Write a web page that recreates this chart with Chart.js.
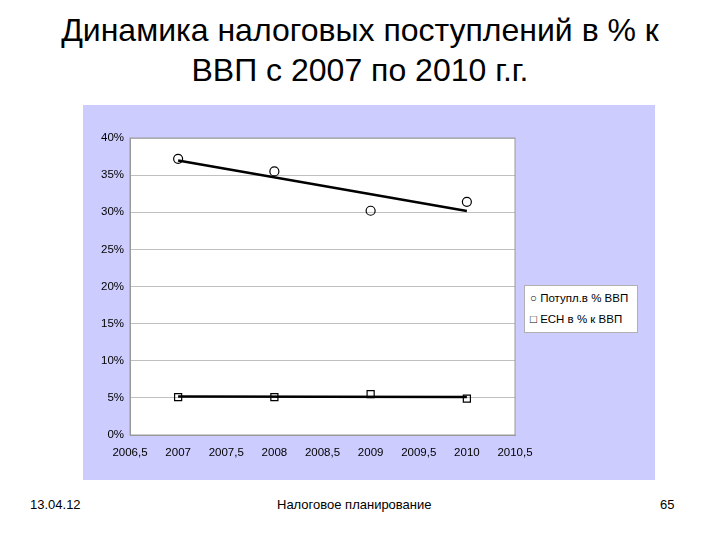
<!DOCTYPE html>
<html>
<head>
<meta charset="utf-8">
<script src="https://cdn.jsdelivr.net/npm/chart.js@4"></script>
<style>
body { margin:0; width:720px; height:540px; background:#fff; font-family:"Liberation Sans", Arial, sans-serif; position:relative; overflow:hidden; }
#title { position:absolute; top:10px; left:0; width:720px; text-align:center; font-size:32px; line-height:40px; color:#000; }
#panel { position:absolute; left:83px; top:105px; width:572px; height:375px; background:#ccccff; }
#legend { position:absolute; left:524px; top:285px; width:114px; height:48px; background:#fff; border:1px solid #b0b0b0; box-sizing:border-box; font-size:11.5px; }
#legend div { position:absolute; left:5px; white-space:nowrap; }
.foot { position:absolute; top:497px; font-size:13px; }
</style>
</head>
<body>
<div id="title">Динамика налоговых поступлений в % к<br>ВВП с 2007 по 2010 г.г.</div>
<div id="panel"><canvas id="myChart" width="572" height="375"></canvas></div>
<div id="legend">
  <div style="top:6px">○ Потупл.в % ВВП</div>
  <div style="top:27px">□ ЕСН в % к ВВП</div>
</div>
<div class="foot" style="left:30px">13.04.12</div>
<div class="foot" style="left:277px">Налоговое планирование</div>
<div class="foot" style="left:660px">65</div>
<script>
"use strict";

let years = [2007, 2008, 2009, 2010];
let taxShare = [0.372, 0.355, 0.302, 0.314];   // Потупл.в % ВВП
let esnShare = [0.051, 0.051, 0.055, 0.049];   // ЕСН в % к ВВП

function trend(xs, ys){
    let n = xs.length, mx = 0, my = 0;
    for(let i = 0; i < n; i++){ mx += xs[i]/n; my += ys[i]/n; }
    let num = 0, den = 0;
    for(let i = 0; i < n; i++){ num += (xs[i]-mx)*(ys[i]-my); den += (xs[i]-mx)*(xs[i]-mx); }
    let b = num/den;
    return [{x: xs[0], y: my + b*(xs[0]-mx)}, {x: xs[n-1], y: my + b*(xs[n-1]-mx)}];
}
function pts(ys){
    return years.map((x, i) => ({x: x, y: ys[i]}));
}

const frame = {
    id: 'frame',
    beforeDraw(chart){
        let a = chart.chartArea, c = chart.ctx;
        c.save();
        c.fillStyle = '#fff';
        c.fillRect(a.left, a.top, a.right - a.left, a.bottom - a.top);
        c.restore();
    },
    afterDraw(chart){
        let a = chart.chartArea, c = chart.ctx;
        c.save();
        c.strokeStyle = '#999';
        c.lineWidth = 1;
        c.strokeRect(a.left, a.top, a.right - a.left, a.bottom - a.top);
        c.restore();
    }
};

const ctx = document.getElementById('myChart').getContext('2d');
new Chart(ctx, {
    type: 'scatter',
    data: {
        datasets: [
            { data: trend(years, taxShare), type: 'line', borderColor: '#000', borderWidth: 2.5, pointRadius: 0, order: 2 },
            { data: trend(years, esnShare), type: 'line', borderColor: '#000', borderWidth: 2.5, pointRadius: 0, order: 2 },
            { data: pts(taxShare), pointStyle: 'circle', pointRadius: 4.5, backgroundColor: 'rgba(255,255,255,0)', borderColor: '#000', borderWidth: 1.2, order: 1 },
            { data: pts(esnShare), pointStyle: 'rect', pointRadius: 5, backgroundColor: 'rgba(255,255,255,0)', borderColor: '#000', borderWidth: 1.2, order: 1 }
        ]
    },
    options: {
        responsive: false,
        animation: false,
        layout: { padding: { top: 33, right: 140, left: 0, bottom: 0 } },
        plugins: { legend: { display: false }, tooltip: { enabled: false } },
        scales: {
            x: {
                type: 'linear', min: 2006.5, max: 2010.5,
                grid: { display: false },
                border: { color: '#999' },
                ticks: { stepSize: 0.5, color: '#000', font: { family: 'Liberation Sans', size: 11.5 },
                    callback: v => String(v).replace('.', ',') },
                afterFit: s => { s.height = 45; }
            },
            y: {
                min: 0, max: 0.4,
                grid: { color: '#c0c0c0', drawTicks: false },
                border: { color: '#999' },
                ticks: { stepSize: 0.05, padding: 6, color: '#000', font: { family: 'Liberation Sans', size: 11.5 },
                    callback: v => Math.round(v*100) + '%' },
                afterFit: s => { s.width = 47; }
            }
        }
    },
    plugins: [frame]
});
</script>
</body>
</html>
